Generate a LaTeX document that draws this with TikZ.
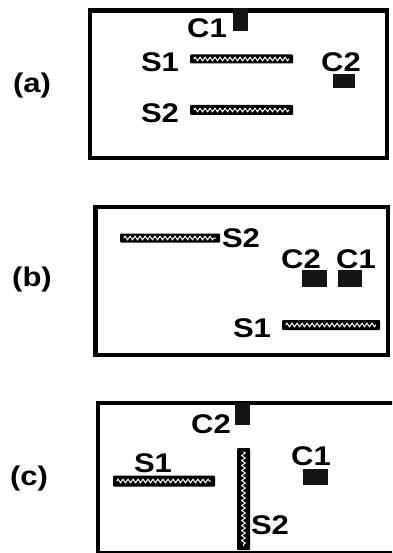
\documentclass[tikz,border=0pt]{standalone}
\usepackage{fontspec}
\newfontfamily\labfont[FakeStretch=1.15]{Liberation Sans}
\usetikzlibrary{decorations.pathmorphing}
\begin{document}
\begin{tikzpicture}[x=1pt,y=-1pt,
  frame/.style={line width=4.5pt, line join=miter},
  lab/.style={font=\labfont\bfseries\fontsize{27}{27}\selectfont, inner sep=0pt},
  seg/.style={fill=black, draw=none, inner sep=0pt, rectangle, rounded corners=1pt},
  blk/.style={fill=black!92, draw=none, inner sep=0pt, rectangle},
  zz/.style={white, line width=1pt, decorate, decoration={zigzag, segment length=5pt, amplitude=1.8pt}}]
\useasboundingbox (0,0) rectangle (392,553);
\clip (0,0) rectangle (392,553);
\fill[white] (0,0) rectangle (392,553);

% ---------- (a) ----------
\draw[frame] (90,10.3) rectangle (387,158);
\node[lab] (la) at (32,86) {(a)};
\node[blk, minimum width=15pt, minimum height=23pt] (aC1b) at (240.5,19.5) {};
\node[lab] (aC1) at (207,28) {C1};
\node[lab] (aS1) at (160,62) {S1};
\node[seg, minimum width=103pt, minimum height=9pt] (aS1b) at (241.5,59) {};
\draw[zz] ([xshift=4pt]aS1b.west) -- ([xshift=-4pt]aS1b.east);
\node[lab] (aC2) at (341,62) {C2};
\node[blk, minimum width=22pt, minimum height=14pt] (aC2b) at (344,81) {};
\node[lab] (aS2) at (160,113) {S2};
\node[seg, minimum width=103pt, minimum height=10pt] (aS2b) at (241.5,110) {};
\draw[zz] ([xshift=4pt]aS2b.west) -- ([xshift=-4pt]aS2b.east);

% ---------- (b) ----------
\draw[frame] (95.5,207) rectangle (388,355);
\node[lab] (lb) at (32,280) {(b)};
\node[seg, minimum width=100pt, minimum height=9pt] (bS2b) at (170,238) {};
\draw[zz] ([xshift=4pt]bS2b.west) -- ([xshift=-4pt]bS2b.east);
\node[lab] (bS2) at (241,238) {S2};
\node[lab] (bC2) at (301,259) {C2};
\node[lab] (bC1) at (356,259) {C1};
\node[blk, minimum width=25pt, minimum height=17pt] (bC2b) at (314.5,278.5) {};
\node[blk, minimum width=24pt, minimum height=17pt] (bC1b) at (350,278.5) {};
\node[lab] (bS1) at (252,328) {S1};
\node[seg, minimum width=98pt, minimum height=10pt] (bS1b) at (331,325) {};
\draw[zz] ([xshift=4pt]bS1b.west) -- ([xshift=-4pt]bS1b.east);

% ---------- (c) ----------
\draw[frame] (400,403) -- (98,403) -- (98,553.5) -- (400,553.5);
\node[lab] (lc) at (29,479) {(c)};
\node[blk, minimum width=15pt, minimum height=22pt] (cC2b) at (242.5,414) {};
\node[lab] (cC2) at (211,424) {C2};
\node[lab] (cS1) at (153,463) {S1};
\node[seg, minimum width=102pt, minimum height=11pt] (cS1b) at (164,481) {};
\draw[zz] ([xshift=4pt]cS1b.west) -- ([xshift=-4pt]cS1b.east);
\node[seg, minimum width=13pt, minimum height=102pt] (cS2b) at (243.5,499) {};
\draw[zz] ([yshift=-4pt]cS2b.north) -- ([yshift=4pt]cS2b.south);
\node[lab] (cS2) at (270,525) {S2};
\node[lab] (cC1) at (311,456) {C1};
\node[blk, minimum width=25pt, minimum height=16pt] (cC1b) at (315.5,477) {};
\end{tikzpicture}
\end{document}
